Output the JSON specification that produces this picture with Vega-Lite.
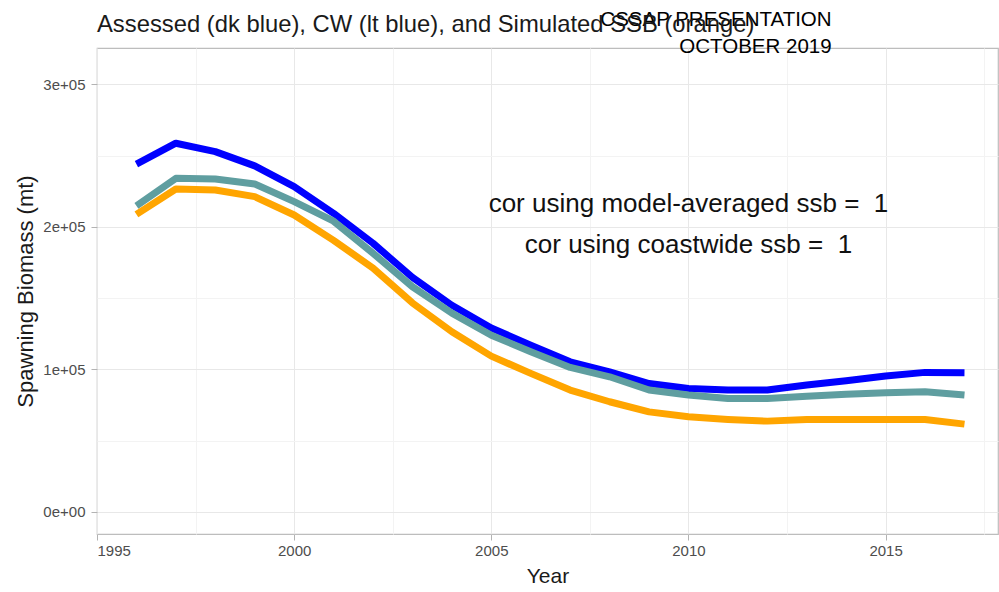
{
  "$schema": "https://vega.github.io/schema/vega-lite/v6.json",
  "autosize": {"type": "none"},
  "width": 901,
  "height": 486,
  "padding": {"left": 97, "top": 48, "right": 1, "bottom": 58},
  "background": "white",
  "config": {
    "font": "Liberation Sans",
    "view": {"stroke": "#bdbdbd", "strokeWidth": 1.2},
    "axis": {"domain": false, "tickColor": "#b3b3b3", "tickSize": 6, "labelColor": "#4d4d4d", "labelFontSize": 15, "titleColor": "#1a1a1a", "titleFontWeight": "normal", "gridColor": "#e8e8e8", "gridWidth": 1}
  },
  "title": {"text": "Assessed (dk blue), CW (lt blue), and Simulated SSB (orange)", "anchor": "start", "frame": "group", "fontSize": 23.8, "fontWeight": "normal", "color": "#1a1a1a", "offset": -27},
  "datasets": {
    "ssb": [
      {"year": 1996, "series": "Assessed", "ssb": 244000},
      {"year": 1997, "series": "Assessed", "ssb": 258700},
      {"year": 1998, "series": "Assessed", "ssb": 252800},
      {"year": 1999, "series": "Assessed", "ssb": 242800},
      {"year": 2000, "series": "Assessed", "ssb": 228200},
      {"year": 2001, "series": "Assessed", "ssb": 209500},
      {"year": 2002, "series": "Assessed", "ssb": 188500},
      {"year": 2003, "series": "Assessed", "ssb": 164500},
      {"year": 2004, "series": "Assessed", "ssb": 145000},
      {"year": 2005, "series": "Assessed", "ssb": 129000},
      {"year": 2006, "series": "Assessed", "ssb": 117000},
      {"year": 2007, "series": "Assessed", "ssb": 105300},
      {"year": 2008, "series": "Assessed", "ssb": 98300},
      {"year": 2009, "series": "Assessed", "ssb": 90100},
      {"year": 2010, "series": "Assessed", "ssb": 86600},
      {"year": 2011, "series": "Assessed", "ssb": 85500},
      {"year": 2012, "series": "Assessed", "ssb": 85500},
      {"year": 2013, "series": "Assessed", "ssb": 89000},
      {"year": 2014, "series": "Assessed", "ssb": 92000},
      {"year": 2015, "series": "Assessed", "ssb": 95300},
      {"year": 2016, "series": "Assessed", "ssb": 97900},
      {"year": 2017, "series": "Assessed", "ssb": 97600},
      {"year": 1996, "series": "CW", "ssb": 214700},
      {"year": 1997, "series": "CW", "ssb": 234100},
      {"year": 1998, "series": "CW", "ssb": 233600},
      {"year": 1999, "series": "CW", "ssb": 230100},
      {"year": 2000, "series": "CW", "ssb": 217700},
      {"year": 2001, "series": "CW", "ssb": 204000},
      {"year": 2002, "series": "CW", "ssb": 181500},
      {"year": 2003, "series": "CW", "ssb": 158000},
      {"year": 2004, "series": "CW", "ssb": 139500},
      {"year": 2005, "series": "CW", "ssb": 124000},
      {"year": 2006, "series": "CW", "ssb": 112400},
      {"year": 2007, "series": "CW", "ssb": 101400},
      {"year": 2008, "series": "CW", "ssb": 94800},
      {"year": 2009, "series": "CW", "ssb": 85500},
      {"year": 2010, "series": "CW", "ssb": 82000},
      {"year": 2011, "series": "CW", "ssb": 79600},
      {"year": 2012, "series": "CW", "ssb": 79600},
      {"year": 2013, "series": "CW", "ssb": 81200},
      {"year": 2014, "series": "CW", "ssb": 82600},
      {"year": 2015, "series": "CW", "ssb": 83600},
      {"year": 2016, "series": "CW", "ssb": 84300},
      {"year": 2017, "series": "CW", "ssb": 82000},
      {"year": 1996, "series": "Simulated", "ssb": 208800},
      {"year": 1997, "series": "Simulated", "ssb": 226600},
      {"year": 1998, "series": "Simulated", "ssb": 225900},
      {"year": 1999, "series": "Simulated", "ssb": 221200},
      {"year": 2000, "series": "Simulated", "ssb": 208300},
      {"year": 2001, "series": "Simulated", "ssb": 190500},
      {"year": 2002, "series": "Simulated", "ssb": 171100},
      {"year": 2003, "series": "Simulated", "ssb": 146600},
      {"year": 2004, "series": "Simulated", "ssb": 126400},
      {"year": 2005, "series": "Simulated", "ssb": 109300},
      {"year": 2006, "series": "Simulated", "ssb": 97200},
      {"year": 2007, "series": "Simulated", "ssb": 85500},
      {"year": 2008, "series": "Simulated", "ssb": 77300},
      {"year": 2009, "series": "Simulated", "ssb": 70200},
      {"year": 2010, "series": "Simulated", "ssb": 66700},
      {"year": 2011, "series": "Simulated", "ssb": 64900},
      {"year": 2012, "series": "Simulated", "ssb": 63700},
      {"year": 2013, "series": "Simulated", "ssb": 64900},
      {"year": 2014, "series": "Simulated", "ssb": 64900},
      {"year": 2015, "series": "Simulated", "ssb": 64900},
      {"year": 2016, "series": "Simulated", "ssb": 64900},
      {"year": 2017, "series": "Simulated", "ssb": 61600}
    ],
    "cor": [
      {"year": 2010, "ssb": 216100, "label": "cor using model-averaged ssb = \u00a01"},
      {"year": 2010, "ssb": 187200, "label": "cor using coastwide ssb = \u00a01"}
    ],
    "stamp": [
      {"year": 2013.63, "ssb": 345100, "label": "CSSAP PRESENTATION"},
      {"year": 2013.63, "ssb": 326100, "label": "OCTOBER 2019"}
    ]
  },
  "layer": [
    {
      "data": {"name": "ssb"},
      "mark": {"type": "line", "opacity": 0},
      "encoding": {
        "x": {"field": "year", "type": "quantitative", "scale": {"domain": [1995, 2017.85], "nice": false, "zero": false},
              "axis": {"orient": "top", "values": [1997.5, 2002.5, 2007.5, 2012.5, 2017.5], "labels": false, "ticks": false, "domain": false, "title": null, "grid": true, "gridColor": "#f3f3f3"}},
        "y": {"field": "ssb", "type": "quantitative", "scale": {"domain": [-15500, 325500], "nice": false, "zero": false},
              "axis": {"orient": "right", "values": [50000, 150000, 250000], "labels": false, "ticks": false, "domain": false, "title": null, "grid": true, "gridColor": "#f3f3f3"}},
        "detail": {"field": "series"}
      }
    },
    {
      "data": {"name": "ssb"},
      "mark": {"type": "line", "strokeWidth": 7, "strokeCap": "butt", "strokeJoin": "round"},
      "encoding": {
        "x": {"field": "year", "type": "quantitative",
              "axis": {"orient": "bottom", "values": [1995, 2000, 2005, 2010, 2015], "format": "d", "title": "Year", "titleFontSize": 21, "grid": true, "labelPadding": 3, "titlePadding": 7}},
        "y": {"field": "ssb", "type": "quantitative",
              "axis": {"orient": "left", "values": [0, 100000, 200000, 300000], "labelExpr": "datum.value == 0 ? '0e+00' : format(datum.value / 100000, 'd') + 'e+05'", "title": "Spawning Biomass (mt)", "titleFontSize": 22, "grid": true, "labelPadding": 6, "titlePadding": 5}},
        "color": {"field": "series", "type": "nominal", "scale": {"domain": ["Assessed", "CW", "Simulated"], "range": ["#0000ff", "#5f9ea0", "#ffa500"]}, "legend": null}
      }
    },
    {
      "data": {"name": "cor"},
      "mark": {"type": "text", "fontSize": 26, "align": "center", "baseline": "middle", "color": "#111111"},
      "encoding": {
        "x": {"field": "year", "type": "quantitative", "axis": null},
        "y": {"field": "ssb", "type": "quantitative", "axis": null},
        "text": {"field": "label"}
      }
    },
    {
      "data": {"name": "stamp"},
      "mark": {"type": "text", "fontSize": 20.5, "align": "right", "baseline": "middle", "color": "#000000", "clip": false},
      "encoding": {
        "x": {"field": "year", "type": "quantitative", "axis": null},
        "y": {"field": "ssb", "type": "quantitative", "axis": null},
        "text": {"field": "label"}
      }
    }
  ],
  "resolve": {"axis": {"x": "independent", "y": "independent"}}
}
